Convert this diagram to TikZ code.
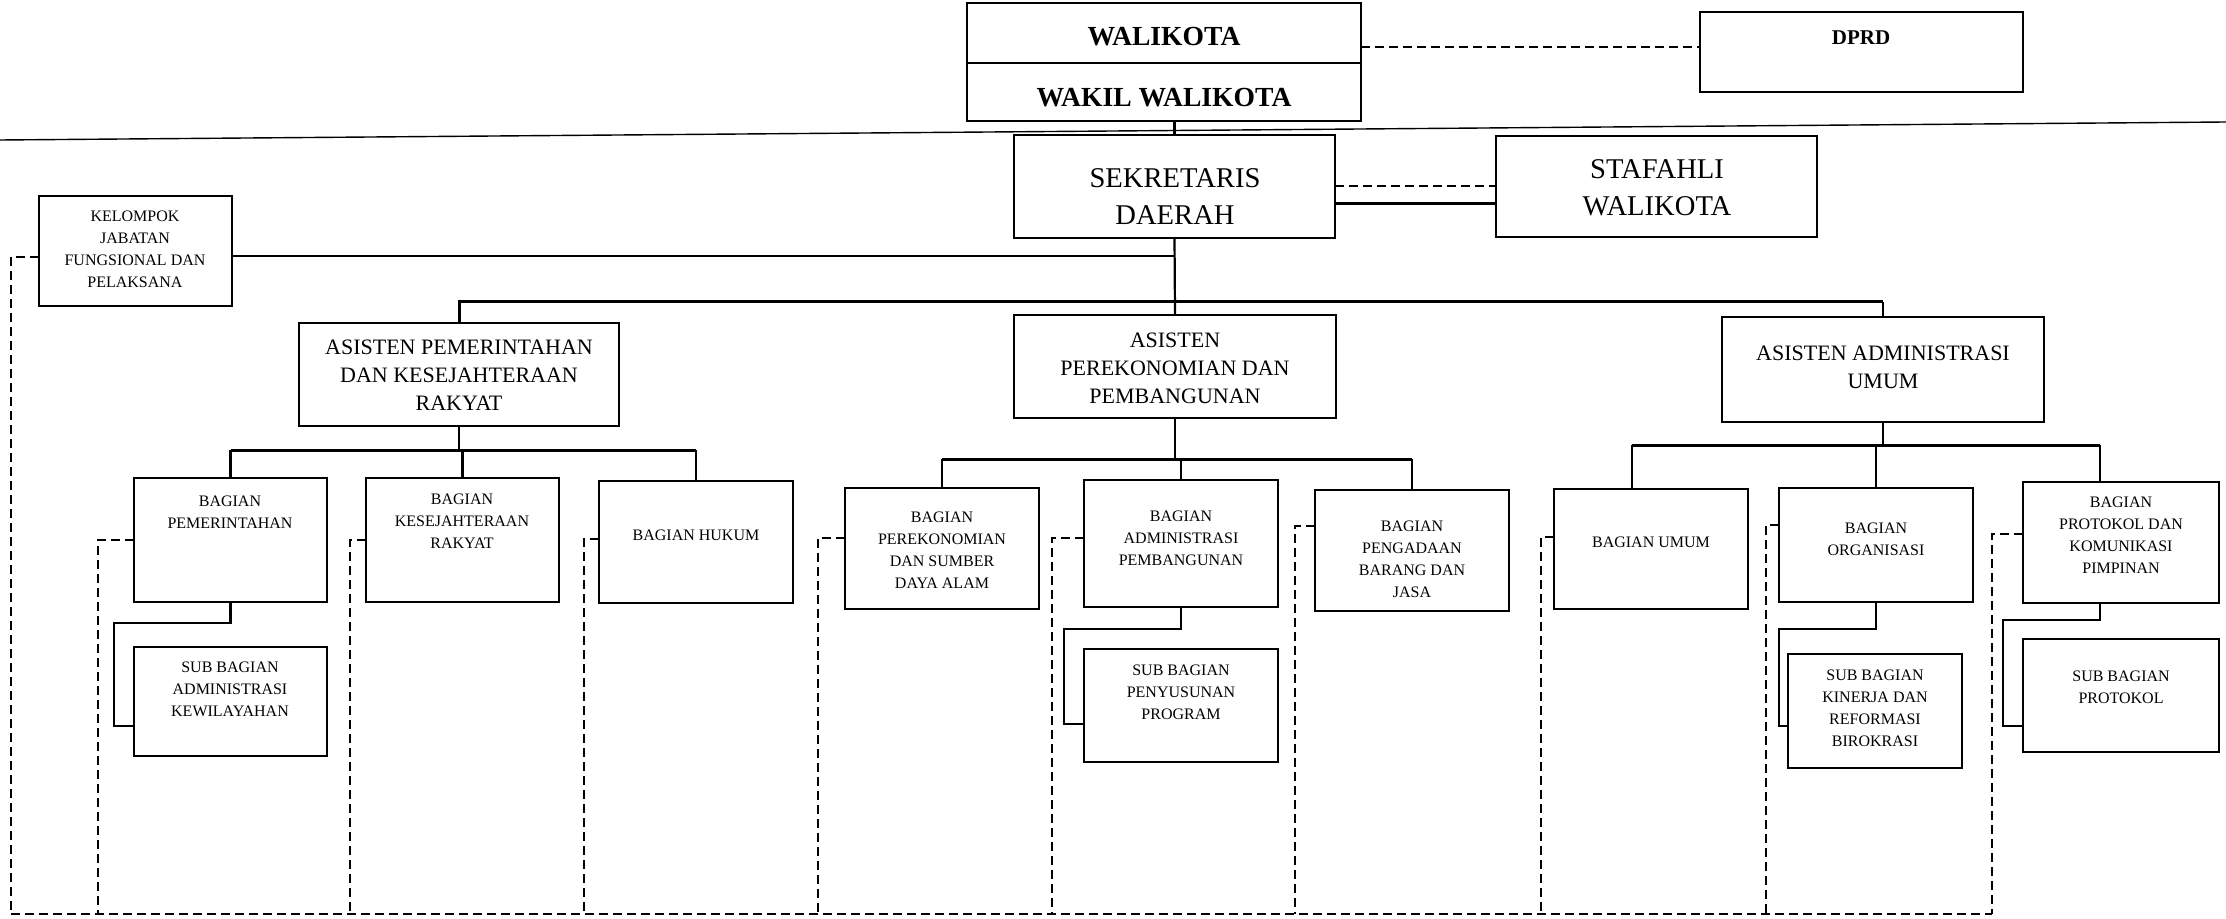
\documentclass[tikz,border=0pt]{standalone}
\usepackage{fontspec}
\setmainfont{Liberation Serif}
\newcommand\mybox[5]{\node[boxst, minimum width={(#4-#2)*0.5pt}, minimum height={(#5-#3)*0.5pt}] (#1) at ({(#2+#4)/2},{(#3+#5)/2}) {};}
\tikzset{
  boxst/.style={draw, line width=1.4pt, inner sep=0pt, outer sep=0pt},
  sm/.style={font=\fontsize{8}{11}\selectfont, align=center, inner sep=0pt},
  md/.style={font=\fontsize{11}{14}\selectfont, align=center, inner sep=0pt},
  lg/.style={font=\fontsize{14.3}{18.5}\selectfont, align=center, inner sep=0pt},
  bd/.style={font=\fontsize{13.8}{16}\selectfont\bfseries, inner sep=0pt},
  bds/.style={font=\fontsize{10.5}{12}\selectfont\bfseries, inner sep=0pt},
  ln/.style={line width=1.1pt},
  bus/.style={line width=1.5pt},
  dsh/.style={line width=1pt, dash pattern=on 4.5pt off 2.5pt},
  thin/.style={line width=0.7pt}
}
\begin{document}
\begin{tikzpicture}[x=0.5pt,y=-0.5pt]
\useasboundingbox (0,0) rectangle (2226,919);
% boxes
\mybox{wal}{967}{3}{1361}{63}
\mybox{wak}{967}{63}{1361}{121}
\mybox{dprd}{1700}{12}{2023}{92}
\mybox{sek}{1014}{135}{1335}{238}
\mybox{staf}{1496}{136}{1817}{237}
\mybox{kel}{39}{196}{232}{306}
\mybox{apem}{299}{323}{619}{426}
\mybox{apek}{1014}{315}{1336}{418}
\mybox{aadm}{1722}{317}{2044}{422}
\mybox{bpem}{134}{478}{327}{602}
\mybox{bkes}{366}{478}{559}{602}
\mybox{bhuk}{599}{481}{793}{603}
\mybox{bsda}{845}{488}{1039}{609}
\mybox{badp}{1084}{480}{1278}{607}
\mybox{bpbj}{1315}{490}{1509}{611}
\mybox{bumu}{1554}{489}{1748}{609}
\mybox{borg}{1779}{488}{1973}{602}
\mybox{bpro}{2023}{482}{2219}{603}
\mybox{spem}{134}{647}{327}{756}
\mybox{sadp}{1084}{649}{1278}{762}
\mybox{sorg}{1788}{654}{1962}{768}
\mybox{spro}{2023}{639}{2219}{752}
% texts
\node[bd] (walt) at (1164,37) {WALIKOTA};
\node[bd] (wakt) at (1164,98) {WAKIL WALIKOTA};
\node[bds] (dprdt) at (1861,38) {DPRD};
\node[lg] (sekt) at (1175,197) {SEKRETARIS\\DAERAH};
\node[lg] (staft) at (1657,188) {STAFAHLI\\WALIKOTA};
\node[sm] (kelt) at (135,249) {KELOMPOK\\JABATAN\\FUNGSIONAL DAN\\PELAKSANA};
\node[md] (apemt) at (459,375) {ASISTEN PEMERINTAHAN\\DAN KESEJAHTERAAN\\RAKYAT};
\node[md] (apekt) at (1175,368) {ASISTEN\\PEREKONOMIAN DAN\\PEMBANGUNAN};
\node[md] (aadmt) at (1883,367) {ASISTEN ADMINISTRASI\\UMUM};
\node[sm] (bpemt) at (230,512) {BAGIAN\\PEMERINTAHAN};
\node[sm] (bkest) at (462,521) {BAGIAN\\KESEJAHTERAAN\\RAKYAT};
\node[sm] (bhukt) at (696,535) {BAGIAN HUKUM};
\node[sm] (bsdat) at (942,550) {BAGIAN\\PEREKONOMIAN\\DAN SUMBER\\DAYA ALAM};
\node[sm] (badpt) at (1181,538) {BAGIAN\\ADMINISTRASI\\PEMBANGUNAN};
\node[sm] (bpbjt) at (1412,559) {BAGIAN\\PENGADAAN\\BARANG DAN\\JASA};
\node[sm] (bumut) at (1651,542) {BAGIAN UMUM};
\node[sm] (borgt) at (1876,539) {BAGIAN\\ORGANISASI};
\node[sm] (bprot) at (2121,535) {BAGIAN\\PROTOKOL DAN\\KOMUNIKASI\\PIMPINAN};
\node[sm] (spemt) at (230,689) {SUB BAGIAN\\ADMINISTRASI\\KEWILAYAHAN};
\node[sm] (sadpt) at (1181,692) {SUB BAGIAN\\PENYUSUNAN\\PROGRAM};
\node[sm] (sorgt) at (1875,708) {SUB BAGIAN\\KINERJA DAN\\REFORMASI\\BIROKRASI};
\node[sm] (sprot) at (2121,687) {SUB BAGIAN\\PROTOKOL};
% slanted rule
\coordinate (rl) at (0,140);
\coordinate (rr) at (2226,122);
\draw[thin] (rl) -- (rr);
% top connections
\draw[dsh] ([yshift=-7pt]wal.east) -- ([yshift=2.5pt]dprd.west);
\draw[ln] (wak.south -| sek.north) -- (sek.north);
\draw[dsh] (sek.east) -- (staf.west);
\draw[ln] ([yshift=-8.5pt]sek.east) -- ([yshift=-8.5pt]staf.west);
\draw[ln] (sek.south) -- (apek.north);
\draw[ln] ([yshift=-2.5pt]kel.east) -- ([yshift=-2.5pt]kel.east -| sek.south);
% asisten bus
\coordinate (bus1) at (0,302);
\draw[bus] (apem.north) -- (apem.north |- bus1) -- (aadm.north |- bus1);
\draw[ln] (aadm.north |- bus1) -- (aadm.north);
% group 1
\coordinate (bus2) at (0,450);
\draw[ln] (apem.south) -- (apem.south |- bus2);
\draw[bus] (bpem.north |- bus2) -- (bhuk.north |- bus2);
\draw[ln] (bpem.north |- bus2) -- (bpem.north);
\draw[ln] (bkes.north |- bus2) -- (bkes.north);
\draw[ln] (bhuk.north |- bus2) -- (bhuk.north);
% group 2
\coordinate (bus3) at (0,459);
\draw[ln] (apek.south) -- (apek.south |- bus3);
\draw[bus] (bsda.north |- bus3) -- (bpbj.north |- bus3);
\draw[ln] (bsda.north |- bus3) -- (bsda.north);
\draw[ln] (badp.north |- bus3) -- (badp.north);
\draw[ln] (bpbj.north |- bus3) -- (bpbj.north);
% group 3
\coordinate (bus4) at (0,445);
\draw[ln] (aadm.south) -- (aadm.south |- bus4);
\draw[bus] ([xshift=-9.5pt]bumu.north |- bus4) -- ([xshift=-10.5pt]bpro.north |- bus4);
\draw[ln] ([xshift=-9.5pt]bumu.north |- bus4) -- ([xshift=-9.5pt]bumu.north);
\draw[ln] (borg.north |- bus4) -- (borg.north);
\draw[ln] ([xshift=-10.5pt]bpro.north |- bus4) -- ([xshift=-10.5pt]bpro.north);
% sub bagian links
\draw[ln] (bpem.south) -- ++(0,-10.5pt) -- ++(-58.25pt,0) |- ([yshift=-12.25pt]spem.west);
\draw[ln] (badp.south) -- ++(0,-11pt) -- ++(-58.5pt,0) |- ([yshift=-9.25pt]sadp.west);
\draw[ln] (borg.south) -- ++(0,-13.5pt) -- ++(-48.5pt,0) |- ([yshift=-7.5pt]sorg.west);
\draw[ln] ([xshift=-10.5pt]bpro.south) -- ++(0,-8.5pt) -- ++(-48.5pt,0) |- ([yshift=-15.25pt]spro.west);
% dashed functional lines
\coordinate (bot) at (0,914);
\coordinate (d0) at ([xshift=-14pt,yshift=-3pt]kel.west);
\coordinate (d1) at ([xshift=-18pt]bpem.west);
\coordinate (d2) at ([xshift=-8pt]bkes.west);
\coordinate (d3) at ([xshift=-7.5pt,yshift=1.5pt]bhuk.west);
\coordinate (d4) at ([xshift=-13.5pt,yshift=5.25pt]bsda.west);
\coordinate (d5) at ([xshift=-16pt,yshift=2.75pt]badp.west);
\coordinate (d6) at ([xshift=-10pt,yshift=12.25pt]bpbj.west);
\coordinate (d7) at ([xshift=-6.5pt,yshift=6pt]bumu.west);
\coordinate (d8) at ([xshift=-6.5pt,yshift=10pt]borg.west);
\coordinate (d9) at ([xshift=-15.5pt,yshift=4.25pt]bpro.west);
\draw[dsh] ([yshift=-3pt]kel.west) -- (d0) -- (d0 |- bot);
\draw[dsh] (bpem.west) -- (d1) -- (d1 |- bot);
\draw[dsh] (bkes.west) -- (d2) -- (d2 |- bot);
\draw[dsh] ([yshift=1.5pt]bhuk.west) -- (d3) -- (d3 |- bot);
\draw[dsh] ([yshift=5.25pt]bsda.west) -- (d4) -- (d4 |- bot);
\draw[dsh] ([yshift=2.75pt]badp.west) -- (d5) -- (d5 |- bot);
\draw[dsh] ([yshift=12.25pt]bpbj.west) -- (d6) -- (d6 |- bot);
\draw[dsh] ([yshift=6pt]bumu.west) -- (d7) -- (d7 |- bot);
\draw[dsh] ([yshift=10pt]borg.west) -- (d8) -- (d8 |- bot);
\draw[dsh] ([yshift=4.25pt]bpro.west) -- (d9) -- (d9 |- bot);
\draw[dsh] (d0 |- bot) -- (d9 |- bot);
\end{tikzpicture}
\end{document}
